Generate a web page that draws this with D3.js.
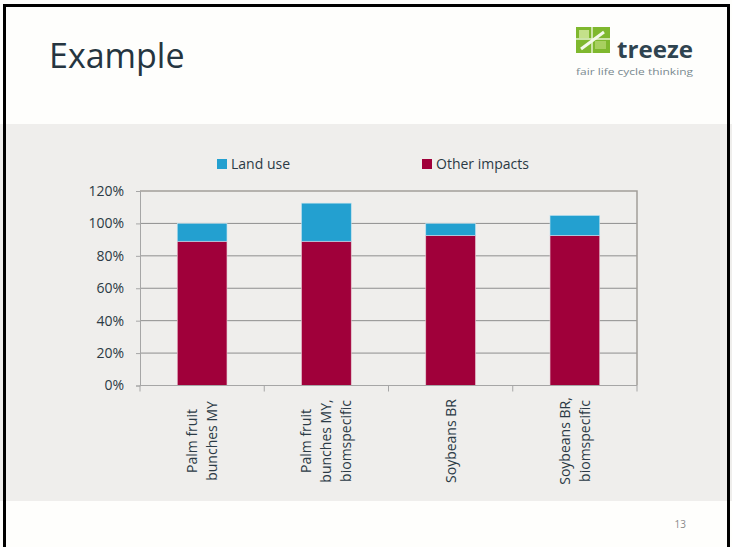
<!DOCTYPE html>
<html>
<head>
<meta charset="utf-8">
<script src="https://cdn.jsdelivr.net/npm/d3@7"></script>
<style>
  body { margin: 0; background: #fefefc; }
  svg { display: block; font-family: "Open Sans", sans-serif; }
</style>
</head>
<body>
<div class="container"></div>
<script>
const categories = [
  ["Palm fruit", "bunches MY"],
  ["Palm fruit", "bunches MY,", "biomspecific"],
  ["Soybeans BR"],
  ["Soybeans BR,", "biomspecific"]
]
const otherImpacts = [89, 89, 92.6, 92.6]
const landUse = [11, 23.5, 7.4, 12.3]
const seriesNames = ["Land use", "Other impacts"]
const yTicks = [0, 20, 40, 60, 80, 100, 120]

const width = 732
const height = 547

const svg = d3.select('.container')
  .append('svg')
  .attr('width', width)
  .attr('height', height)

// slide background + gray band
svg.append('rect').attr('width', width).attr('height', height).attr('fill', '#fefefc')
svg.append('rect').attr('x', 0).attr('y', 124).attr('width', width).attr('height', 377).attr('fill', '#efeeec')

// title
svg.append('text')
  .attr('x', 49).attr('y', 68)
  .attr('fill', '#253540')
  .style('font-size', '34px')
  .text('Example')

// logo
const logo = svg.append('g').attr('transform', 'translate(576,27)')
logo.append('rect').attr('width', 34).attr('height', 26).attr('fill', '#7fb82e')
logo.append('rect').attr('x', 3).attr('y', 3).attr('width', 10).attr('height', 8).attr('fill', '#c4e08a')
logo.append('rect').attr('x', 19).attr('y', 14).attr('width', 11).attr('height', 8).attr('fill', '#a8d060')
logo.append('path').attr('d', 'M0,12 H34 M16,0 V26').attr('stroke', '#e6f2cf').attr('stroke-width', 1.5)
logo.append('path').attr('d', 'M5,22 L28,5').attr('stroke', '#f4f9ea').attr('stroke-width', 3)
logo.append('text')
  .attr('x', 41).attr('y', 31)
  .attr('fill', '#2f4450')
  .style('font-size', '23px')
  .style('font-weight', 'bold')
  .attr('textLength', 76)
  .attr('lengthAdjust', 'spacingAndGlyphs')
  .text('treeze')
logo.append('text')
  .attr('x', 0).attr('y', 48)
  .attr('fill', '#7a8a90')
  .style('font-size', '9px')
  .attr('textLength', 117)
  .attr('lengthAdjust', 'spacingAndGlyphs')
  .text('fair life cycle thinking')

// chart
const x = d3.scaleBand()
  .domain(d3.range(categories.length))
  .range([140, 637])
  .padding(0)

const y = d3.scaleLinear()
  .domain([0, 120])
  .range([385.5, 191])

const barW = x.bandwidth() * 0.4

// gridlines
svg.append('g')
  .selectAll('line')
  .data(yTicks.filter(d => d > 0 && d < 120))
  .join('line')
    .attr('x1', 140).attr('x2', 637)
    .attr('y1', d => y(d)).attr('y2', d => y(d))
    .attr('stroke', '#8e8e8e')
    .attr('stroke-width', 1)

// plot border top & right
svg.append('path')
  .attr('d', `M140,${y(120)} H637 V${y(0)}`)
  .attr('fill', 'none')
  .attr('stroke', '#a39e99')
  .attr('stroke-width', 1.5)

// bars
const stacks = categories.map((c, i) => ({ i, other: otherImpacts[i], land: landUse[i] }))

svg.append('g')
  .selectAll('rect')
  .data(stacks)
  .join('rect')
    .attr('x', d => x(d.i) + (x.bandwidth() - barW) / 2)
    .attr('y', d => y(d.other))
    .attr('width', barW)
    .attr('height', d => y(0) - y(d.other))
    .attr('fill', '#a0003a')
    .attr('stroke', '#e8c8d4')
    .attr('stroke-width', 0.6)

svg.append('g')
  .selectAll('rect')
  .data(stacks)
  .join('rect')
    .attr('x', d => x(d.i) + (x.bandwidth() - barW) / 2)
    .attr('y', d => y(d.other + d.land))
    .attr('width', barW)
    .attr('height', d => y(d.other) - y(d.other + d.land))
    .attr('fill', '#23a0d0')
    .attr('stroke', '#bfe2f0')
    .attr('stroke-width', 0.6)

// y axis
const yAxis = d3.axisLeft(y)
  .tickValues(yTicks)
  .tickSize(4)
  .tickPadding(12)
  .tickFormat(d => d + '%')

const yg = svg.append('g')
  .attr('transform', 'translate(140,0)')
  .call(yAxis)
yg.select('.domain').attr('stroke', '#a6a6a6')
yg.selectAll('.tick line').attr('stroke', '#a6a6a6')
yg.selectAll('text')
  .attr('fill', '#2b3a45')
  .style('font-size', '14px')
  .style('font-family', '"Open Sans", sans-serif')

// x axis line with boundary ticks
svg.append('line')
  .attr('x1', 140).attr('x2', 637)
  .attr('y1', y(0)).attr('y2', y(0))
  .attr('stroke', '#a6a6a6')
svg.append('g')
  .selectAll('line')
  .data(d3.range(categories.length + 1))
  .join('line')
    .attr('x1', d => 140 + d * x.step()).attr('x2', d => 140 + d * x.step())
    .attr('y1', y(0)).attr('y2', y(0) + 6)
    .attr('stroke', '#a6a6a6')

// category labels, rotated
const lineH = 20
svg.append('g')
  .selectAll('text')
  .data(categories)
  .join('text')
    .attr('transform', (d, i) => `translate(${x(i) + x.bandwidth() / 2 + 5},441) rotate(-90)`)
    .attr('text-anchor', 'middle')
    .attr('fill', '#2b3a45')
    .style('font-size', '14px')
    .each(function(d) {
      const t = d3.select(this)
      d.forEach((line, k) => {
        t.append('tspan')
          .attr('x', 0)
          .attr('y', (k - (d.length - 1) / 2) * lineH)
          .text(line)
      })
    })

// legend
const legendColors = ['#23a0d0', '#a0003a']
const legendX = [217, 422]
const legend = svg.append('g')
  .selectAll('g')
  .data(seriesNames)
  .join('g')
    .attr('transform', (d, i) => `translate(${legendX[i]},159)`)
legend.append('rect')
  .attr('width', 10).attr('height', 10)
  .attr('fill', (d, i) => legendColors[i])
legend.append('text')
  .attr('x', 14).attr('y', 10)
  .attr('fill', '#2b3a45')
  .style('font-size', '14px')
  .text(d => d)

// page number
svg.append('text')
  .attr('x', 686).attr('y', 528)
  .attr('text-anchor', 'end')
  .attr('fill', '#8a8a8a')
  .style('font-size', '10px')
  .text('13')

// slide border
svg.append('path')
  .attr('d', `M4.5,${height + 5} V5.5 H728.5 V${height + 5}`)
  .attr('fill', 'none')
  .attr('stroke', '#000')
  .attr('stroke-width', 3)
</script>
</body>
</html>
